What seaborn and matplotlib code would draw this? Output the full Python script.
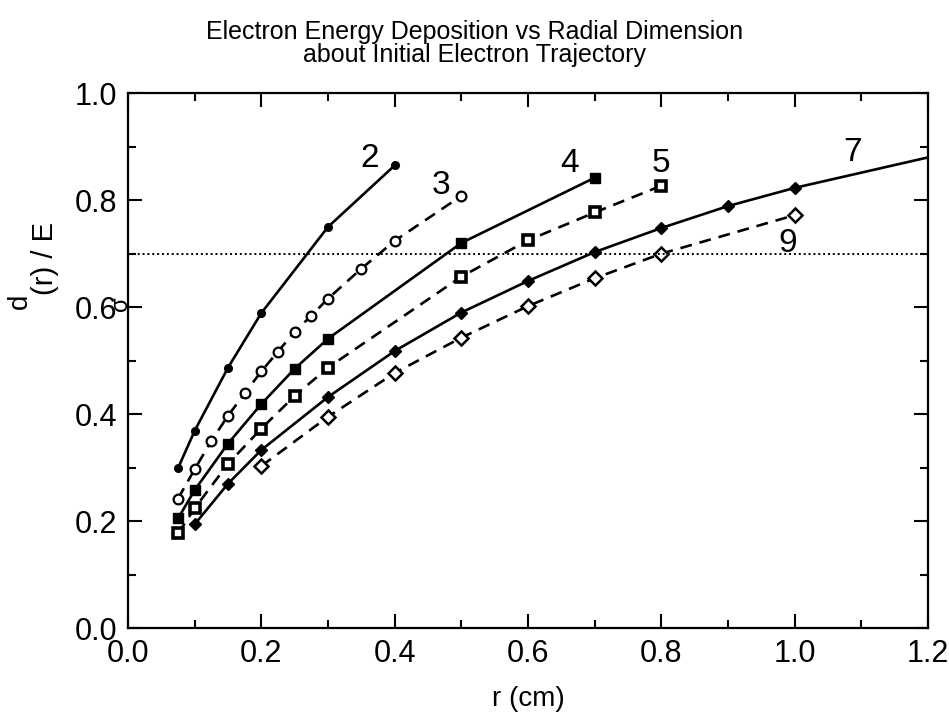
import numpy as np
import pandas as pd
import matplotlib
matplotlib.use("Agg")
import matplotlib.pyplot as plt
from matplotlib.ticker import MultipleLocator
import seaborn as sns

# data
r2 = [0.075, 0.1, 0.15, 0.2, 0.3, 0.4]
e2 = [0.299, 0.369, 0.487, 0.589, 0.750, 0.865]

r3 = [0.075, 0.1, 0.125, 0.15, 0.175, 0.2, 0.225, 0.25, 0.275, 0.3, 0.35, 0.4, 0.5]
e3 = [0.242, 0.297, 0.350, 0.397, 0.439, 0.480, 0.517, 0.554, 0.584, 0.616, 0.672, 0.724, 0.808]

r4 = [0.075, 0.1, 0.15, 0.2, 0.25, 0.3, 0.5, 0.7]
e4 = [0.205, 0.258, 0.345, 0.419, 0.485, 0.541, 0.720, 0.842]

r5 = [0.075, 0.1, 0.15, 0.2, 0.25, 0.3, 0.5, 0.6, 0.7, 0.8]
e5 = [0.177, 0.224, 0.307, 0.373, 0.434, 0.487, 0.657, 0.725, 0.777, 0.827]

r7 = [0.1, 0.15, 0.2, 0.3, 0.4, 0.5, 0.6, 0.7, 0.8, 0.9, 1.0, 1.2]
e7 = [0.194, 0.270, 0.333, 0.432, 0.518, 0.590, 0.649, 0.703, 0.748, 0.789, 0.823, 0.880]

r9 = [0.2, 0.3, 0.4, 0.5, 0.6, 0.7, 0.8, 1.0]
e9 = [0.303, 0.395, 0.477, 0.543, 0.602, 0.654, 0.700, 0.772]

threshold = 0.7

curve_labels = ["2", "3", "4", "5", "7", "9"]
label_x = [0.363, 0.47, 0.662, 0.80, 1.086, 0.989]
label_y = [0.878, 0.828, 0.869, 0.869, 0.890, 0.719]

sns.set_style("ticks")
plt.rcParams["font.family"] = ["Liberation Sans", "DejaVu Sans"]
for key in ["text.color", "axes.labelcolor", "xtick.color", "ytick.color", "axes.edgecolor"]:
    plt.rcParams[key] = "black"

fig = plt.figure(figsize=(9.49, 7.17), dpi=100)
ax = fig.add_axes([0.1349, 0.124, 0.8430, 0.746])

dash = (0, (4.5, 3))
series = [
    (r2, e2, "o", "black", "-", 5.5, 1.0),
    (r3, e3, "o", "white", dash, 7, 1.6),
    (r4, e4, "s", "black", "-", 6.5, 1.0),
    (r5, e5, "s", "white", dash, 6.5, 2.6),
    (r7, e7, "D", "black", "-", 6.5, 1.0),
    (r9, e9, "D", "white", dash, 7, 1.8),
]
for x, y, m, fc, ls, ms, mew in series:
    df = pd.DataFrame({"r": x, "e": y})
    kw = {}
    if x is r7:
        # last point of curve 7 is line only
        kw["markevery"] = list(range(len(x) - 1))
    sns.lineplot(data=df, x="r", y="e", ax=ax, color="black", linestyle=ls,
                 linewidth=1.9, marker=m, markersize=ms, markerfacecolor=fc,
                 markeredgecolor="black", markeredgewidth=mew, sort=False,
                 estimator=None, **kw)

ax.axhline(threshold, color="black", linestyle=(0, (1, 1.5)), linewidth=1.4)

for t, lx, ly in zip(curve_labels, label_x, label_y):
    ax.text(lx, ly, t, fontsize=24, ha="center", va="center")

ax.set_xlim(0, 1.2)
ax.set_ylim(0, 1.0)
ax.xaxis.set_major_locator(MultipleLocator(0.2))
ax.xaxis.set_minor_locator(MultipleLocator(0.1))
ax.yaxis.set_major_locator(MultipleLocator(0.2))
ax.yaxis.set_minor_locator(MultipleLocator(0.1))
ax.xaxis.set_major_formatter(plt.FuncFormatter(lambda v, p: f"{v:.1f}"))
ax.yaxis.set_major_formatter(plt.FuncFormatter(lambda v, p: f"{v:.1f}"))
ax.tick_params(which="both", direction="in", top=True, right=True, width=1.5,
               color="black", labelcolor="black")
ax.tick_params(which="major", length=10, labelsize=22, pad=8)
ax.tick_params(which="minor", length=6)
for s in ax.spines.values():
    s.set_linewidth(1.6)
    s.set_color("black")
    s.set_visible(True)

ax.set_xlabel("r (cm)", fontsize=20, labelpad=12)
ax.set_ylabel("")

# broken y label as in the reference
fig.text(0.047, 0.64, "(r) / E", rotation=90, fontsize=21, ha="center", va="center")
fig.text(0.021, 0.580, "d", rotation=90, fontsize=20, ha="center", va="center")
fig.text(0.127, 0.576, "σ", rotation=90, fontsize=17, ha="center", va="center")

fig.text(0.5, 0.972, "Electron Energy Deposition vs Radial Dimension\nabout Initial Electron Trajectory",
         fontsize=18, ha="center", va="top", linespacing=0.95)

fig.savefig("out.png", dpi=100)
